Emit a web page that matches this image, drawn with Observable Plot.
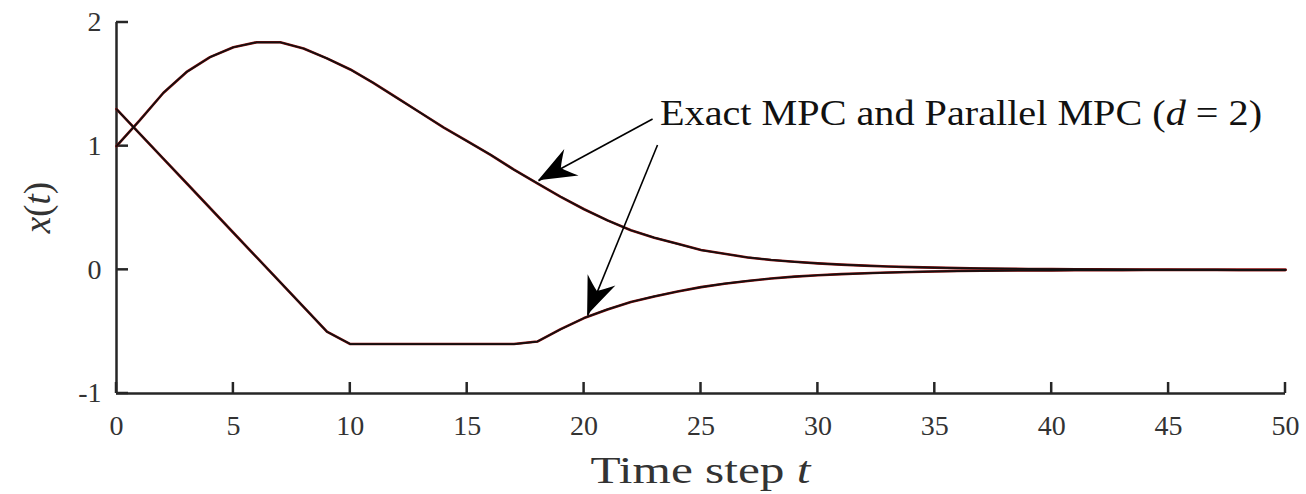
<!DOCTYPE html>
<html>
<head>
<meta charset="utf-8">
<script src="https://cdn.jsdelivr.net/npm/d3@7"></script>
<script src="https://cdn.jsdelivr.net/npm/@observablehq/plot@0.6"></script>
<style>
  html, body { margin: 0; padding: 0; background: #ffffff; }
  #chart { width: 1306px; height: 494px; }
</style>
</head>
<body>
<div id="chart"></div>
<script>
// ---- Data ----
const timeSteps = [0,1,2,3,4,5,6,7,8,9,10,11,12,13,14,15,16,17,18,19,20,21,22,23,24,25,26,27,28,29,30,31,32,33,34,35,36,37,38,39,40,41,42,43,44,45,46,47,48,49,50];

// State trajectory starting at x = 1 (rises to ~1.84, then decays)
const upperTrajectory = [
  1.00, 1.21, 1.43, 1.60, 1.72, 1.80, 1.84, 1.84, 1.79, 1.71,
  1.62, 1.51, 1.39, 1.27, 1.15, 1.04, 0.93, 0.81, 0.70, 0.59,
  0.49, 0.40, 0.32, 0.26, 0.21, 0.16, 0.13, 0.10, 0.08, 0.065,
  0.052, 0.042, 0.034, 0.027, 0.022, 0.018, 0.014, 0.011, 0.009, 0.007,
  0.006, 0.005, 0.004, 0.003, 0.002, 0.002, 0.001, 0.001, 0, 0, 0
];

// State trajectory starting at x = 1.3 (falls to the -0.6 bound, then recovers)
const lowerTrajectory = [
  1.30, 1.10, 0.90, 0.70, 0.50, 0.30, 0.10, -0.10, -0.30, -0.50,
  -0.60, -0.60, -0.60, -0.60, -0.60, -0.60, -0.60, -0.60, -0.58, -0.48,
  -0.39, -0.32, -0.26, -0.215, -0.175, -0.14, -0.112, -0.09, -0.07, -0.055,
  -0.044, -0.035, -0.028, -0.022, -0.017, -0.013, -0.010, -0.008, -0.006, -0.005,
  -0.004, -0.003, -0.002, -0.002, -0.001, -0.001, 0, 0, 0, 0, 0
];

const xTicks = [0, 5, 10, 15, 20, 25, 30, 35, 40, 45, 50];
const yTicks = [-1, 0, 1, 2];
const xDomain = [0, 50];
const yDomain = [-1, 2];

// Annotation (text anchor and arrows, in data units)
const annotationLabel = ["Exact MPC and Parallel MPC (", "d", " = 2)"];
const annotationAnchor = [{t: 23.27, x: 1.17}];
const annotationArrows = [
  {t1: 22.93, x1: 1.22, t2: 18.05, x2: 0.72},
  {t1: 23.14, x1: 1.01, t2: 20.15, x2: -0.37}
];

// ---- Tables built from the arrays ----
const upperData = timeSteps.map((t, i) => ({t, x: upperTrajectory[i]}));
const lowerData = timeSteps.map((t, i) => ({t, x: lowerTrajectory[i]}));

const AXIS = "#262626";
const TEXT = "#333333";
const SERIF = "'Liberation Serif', 'Times New Roman', serif";

// inward tick marks, positioned through the plot's scales
function innerTicks(index, scales, values, dims) {
  const g = d3.create("svg:g").attr("stroke", AXIS).attr("stroke-width", 2.5).attr("fill", "none");
  const y0 = dims.height - dims.marginBottom;
  const x0 = dims.marginLeft;
  for (const t of xTicks) {
    const px = scales.x(t);
    g.append("line").attr("x1", px).attr("x2", px).attr("y1", y0).attr("y2", y0 - 11);
  }
  for (const v of yTicks) {
    const py = scales.y(v);
    g.append("line").attr("x1", x0).attr("x2", x0 + 12).attr("y1", py).attr("y2", py);
  }
  return g.node();
}

// stealth-style filled arrowheads at the arrow tips
function arrowHeads(index, scales) {
  const g = d3.create("svg:g").attr("fill", "#000").attr("stroke", "none");
  for (const a of annotationArrows) {
    const xa = scales.x(a.t1), ya = scales.y(a.x1);
    const xb = scales.x(a.t2), yb = scales.y(a.x2);
    const ang = Math.atan2(yb - ya, xb - xa) * 180 / Math.PI;
    g.append("path")
      .attr("transform", `translate(${xb},${yb}) rotate(${ang})`)
      .attr("d", "M0,0 Q-18,-7 -38,-15 Q-30,-6 -26,0 Q-30,6 -38,15 Q-18,7 0,0 Z");
  }
  return g.node();
}

// annotation text with italic math d
function annotationText(index, scales) {
  const a = annotationAnchor[0];
  const txt = d3.create("svg:text")
    .attr("x", scales.x(a.t)).attr("y", scales.y(a.x))
    .attr("text-anchor", "start")
    .attr("font-family", SERIF).attr("font-size", 35)
    .attr("fill", "#111").attr("textLength", 602).attr("lengthAdjust", "spacingAndGlyphs");
  txt.append("tspan").text(annotationLabel[0]);
  txt.append("tspan").attr("font-style", "italic").text(annotationLabel[1]);
  txt.append("tspan").text(annotationLabel[2]);
  return txt.node();
}

// axis titles
function axisTitles(index, scales, values, dims) {
  const g = d3.create("svg:g").attr("font-family", SERIF).attr("fill", TEXT);
  const cx = (dims.marginLeft + dims.width - dims.marginRight) / 2;
  const cy = (dims.marginTop + dims.height - dims.marginBottom) / 2;
  const xt = g.append("text").attr("x", cx).attr("y", dims.height - 11)
    .attr("text-anchor", "middle").attr("font-size", 37)
    .attr("textLength", 220).attr("lengthAdjust", "spacingAndGlyphs");
  xt.append("tspan").text("Time step ");
  xt.append("tspan").attr("font-style", "italic").text("t");
  const yt = g.append("text").attr("transform", `translate(50,${cy}) rotate(-90)`)
    .attr("text-anchor", "middle").attr("font-size", 37);
  yt.append("tspan").attr("font-style", "italic").text("x");
  yt.append("tspan").text("(");
  yt.append("tspan").attr("font-style", "italic").text("t");
  yt.append("tspan").text(")");
  return g.node();
}

const chart = Plot.plot({
  width: 1306,
  height: 494,
  marginLeft: 116,
  marginRight: 21,
  marginTop: 22,
  marginBottom: 101,
  x: {domain: xDomain},
  y: {domain: yDomain},
  style: {fontFamily: SERIF, fontSize: "28px", color: TEXT, background: "#ffffff", overflow: "visible"},
  marks: [
    Plot.axisX(xTicks, {tickSize: 0, tickPadding: 22, fontSize: 28, label: null, fill: TEXT}),
    Plot.axisY(yTicks, {tickSize: 0, tickPadding: 15, fontSize: 28, label: null, fill: TEXT,
      tickFormat: d => d < 0 ? "-" + Math.abs(d) : String(d)}),
    Plot.ruleX([xDomain[0]], {stroke: AXIS, strokeWidth: 2.5}),
    Plot.ruleY([yDomain[0]], {stroke: AXIS, strokeWidth: 2.5}),
    innerTicks,
    // Parallel MPC (drawn underneath in dark red)
    Plot.line(upperData, {x: "t", y: "x", stroke: "#8b0a0a", strokeWidth: 2.6}),
    Plot.line(lowerData, {x: "t", y: "x", stroke: "#8b0a0a", strokeWidth: 2.6}),
    // Exact MPC (black, on top)
    Plot.line(upperData, {x: "t", y: "x", stroke: "#111", strokeWidth: 1.7}),
    Plot.line(lowerData, {x: "t", y: "x", stroke: "#111", strokeWidth: 1.7}),
    Plot.link(annotationArrows, {x1: "t1", y1: "x1", x2: "t2", y2: "x2", stroke: "#000", strokeWidth: 1.6}),
    arrowHeads,
    annotationText,
    axisTitles
  ]
});

document.getElementById("chart").appendChild(chart);
</script>
</body>
</html>
